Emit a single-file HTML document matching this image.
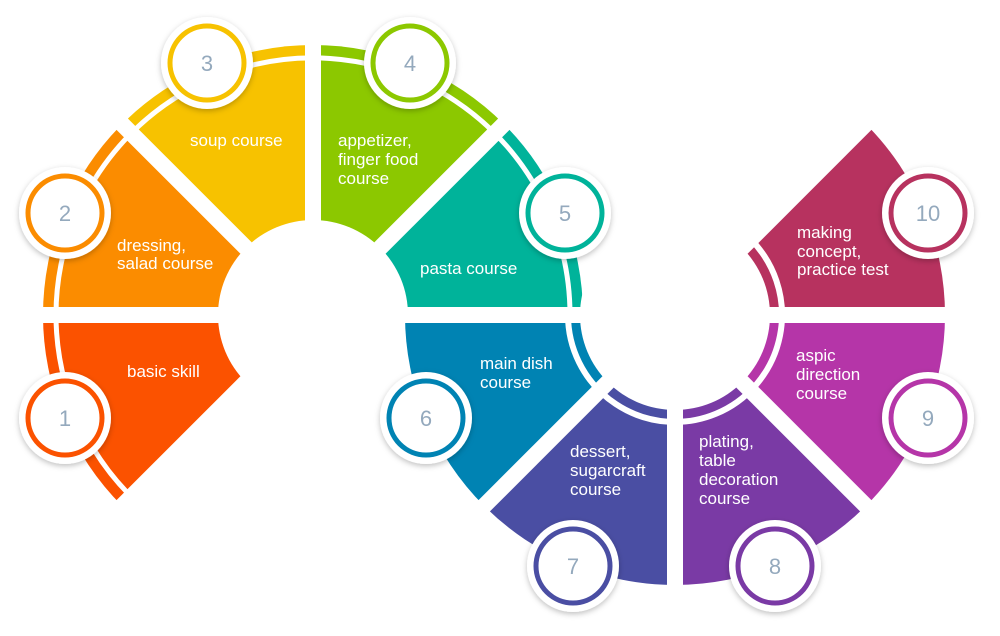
<!DOCTYPE html>
<html><head><meta charset="utf-8"><style>
html,body{margin:0;padding:0;background:#fff;}
svg{display:block;}
text{font-family:"Liberation Sans",sans-serif;}
.l{fill:#fff;font-size:17px;}
.n{fill:#94a9bd;font-size:22px;text-anchor:middle;}
</style></head><body>
<svg width="1000" height="636" viewBox="0 0 1000 636">
<defs>
<filter id="sh" x="-30%" y="-30%" width="160%" height="160%"><feDropShadow dx="0" dy="2" stdDeviation="3" flood-color="#000" flood-opacity="0.25"/></filter>
</defs>
<!-- left ring -->
<path d="M313,315 L122.1,505.9 A270,270 0 0 1 43,315 Z" fill="#fb5200"/>
<path d="M313,315 L43,315 A270,270 0 0 1 122.1,124.1 Z" fill="#fb8c00"/>
<path d="M313,315 L122.1,124.1 A270,270 0 0 1 313,45 Z" fill="#f7c200"/>
<path d="M313,315 L313,45 A270,270 0 0 1 503.9,124.1 Z" fill="#8cc800"/>
<path d="M313,315 L503.9,124.1 A270,270 0 0 1 583,315 Z" fill="#00b39a"/>
<path d="M131.3,496.7 A257,257 0 1 1 570,315" fill="none" stroke="#fff" stroke-width="5"/>
<circle cx="313" cy="315" r="95" fill="#fff"/>
<g stroke="#fff" stroke-width="16">
<line x1="313" y1="315" x2="111.5" y2="516.5"/>
<line x1="313" y1="315" x2="28" y2="315"/>
<line x1="313" y1="315" x2="111.5" y2="113.5"/>
<line x1="313" y1="315" x2="313" y2="30"/>
<line x1="313" y1="315" x2="514.5" y2="113.5"/>
</g>
<!-- right ring -->
<path d="M675,315 L484.1,505.9 A270,270 0 0 1 405,315 Z" fill="#0083b3"/>
<path d="M675,315 L675,585 A270,270 0 0 1 484.1,505.9 Z" fill="#4a4ea3"/>
<path d="M675,315 L865.9,505.9 A270,270 0 0 1 675,585 Z" fill="#7a3aa5"/>
<path d="M675,315 L945,315 A270,270 0 0 1 865.9,505.9 Z" fill="#b535a8"/>
<path d="M675,315 L865.9,124.1 A270,270 0 0 1 945,315 Z" fill="#b7325f"/>
<path d="M750.7,239.3 A107,107 0 1 1 568,315" fill="none" stroke="#fff" stroke-width="6"/>
<circle cx="675" cy="315" r="95" fill="#fff"/>
<g stroke="#fff" stroke-width="16">
<line x1="675" y1="315" x2="390" y2="315"/>
<line x1="675" y1="315" x2="473.5" y2="516.5"/>
<line x1="675" y1="315" x2="675" y2="600"/>
<line x1="675" y1="315" x2="876.5" y2="516.5"/>
<line x1="675" y1="315" x2="960" y2="315"/>
<line x1="675" y1="315" x2="876.5" y2="113.5"/>
</g>
<!-- labels -->
<text class="l" x="127" y="377">basic skill</text>
<text class="l" x="117" y="251">dressing,</text>
<text class="l" x="117" y="269">salad course</text>
<text class="l" x="190" y="146">soup course</text>
<text class="l" x="338" y="146">appetizer,</text>
<text class="l" x="338" y="165">finger food</text>
<text class="l" x="338" y="184">course</text>
<text class="l" x="420" y="274">pasta course</text>
<text class="l" x="480" y="369">main dish</text>
<text class="l" x="480" y="388">course</text>
<text class="l" x="570" y="457">dessert,</text>
<text class="l" x="570" y="476">sugarcraft</text>
<text class="l" x="570" y="495">course</text>
<text class="l" x="699" y="447">plating,</text>
<text class="l" x="699" y="466">table</text>
<text class="l" x="699" y="485">decoration</text>
<text class="l" x="699" y="504">course</text>
<text class="l" x="796" y="361">aspic</text>
<text class="l" x="796" y="380">direction</text>
<text class="l" x="796" y="399">course</text>
<text class="l" x="797" y="238">making</text>
<text class="l" x="797" y="257">concept,</text>
<text class="l" x="797" y="275">practice test</text>
<!-- number circles -->
<g>
<g filter="url(#sh)"><circle cx="65" cy="418" r="46" fill="#fff"/></g><circle cx="65" cy="418" r="37" fill="#fff" stroke="#fb5200" stroke-width="5"/><text class="n" x="65" y="426">1</text>
<g filter="url(#sh)"><circle cx="65" cy="213" r="46" fill="#fff"/></g><circle cx="65" cy="213" r="37" fill="#fff" stroke="#fb8c00" stroke-width="5"/><text class="n" x="65" y="221">2</text>
<g filter="url(#sh)"><circle cx="207" cy="63" r="46" fill="#fff"/></g><circle cx="207" cy="63" r="37" fill="#fff" stroke="#f7c200" stroke-width="5"/><text class="n" x="207" y="71">3</text>
<g filter="url(#sh)"><circle cx="410" cy="63" r="46" fill="#fff"/></g><circle cx="410" cy="63" r="37" fill="#fff" stroke="#8cc800" stroke-width="5"/><text class="n" x="410" y="71">4</text>
<g filter="url(#sh)"><circle cx="565" cy="213" r="46" fill="#fff"/></g><circle cx="565" cy="213" r="37" fill="#fff" stroke="#00b39a" stroke-width="5"/><text class="n" x="565" y="221">5</text>
<g filter="url(#sh)"><circle cx="426" cy="418" r="46" fill="#fff"/></g><circle cx="426" cy="418" r="37" fill="#fff" stroke="#0083b3" stroke-width="5"/><text class="n" x="426" y="426">6</text>
<g filter="url(#sh)"><circle cx="573" cy="566" r="46" fill="#fff"/></g><circle cx="573" cy="566" r="37" fill="#fff" stroke="#4a4ea3" stroke-width="5"/><text class="n" x="573" y="574">7</text>
<g filter="url(#sh)"><circle cx="775" cy="566" r="46" fill="#fff"/></g><circle cx="775" cy="566" r="37" fill="#fff" stroke="#7a3aa5" stroke-width="5"/><text class="n" x="775" y="574">8</text>
<g filter="url(#sh)"><circle cx="928" cy="418" r="46" fill="#fff"/></g><circle cx="928" cy="418" r="37" fill="#fff" stroke="#b535a8" stroke-width="5"/><text class="n" x="928" y="426">9</text>
<g filter="url(#sh)"><circle cx="928" cy="213" r="46" fill="#fff"/></g><circle cx="928" cy="213" r="37" fill="#fff" stroke="#b7325f" stroke-width="5"/><text class="n" x="928" y="221">10</text>
</g>
</svg>
</body></html>
